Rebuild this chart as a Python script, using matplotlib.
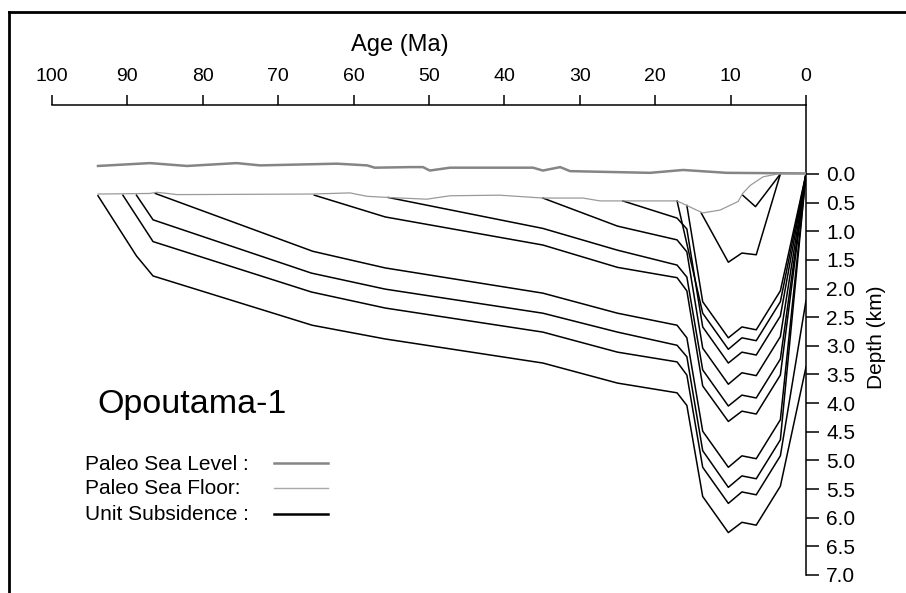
import numpy as np
import matplotlib
matplotlib.use("Agg")
import matplotlib.pyplot as plt
from matplotlib.lines import Line2D

plt.rcParams['font.family'] = ['Liberation Sans', 'DejaVu Sans']

# paleo sea level (depth, km; negative = above datum)
sl_age = [93.9, 87.0, 82.1, 75.5, 72.4, 62.2, 58.2, 57.2, 52.5, 50.8, 49.9, 47.2,
          36.2, 34.9, 32.6, 31.3, 20.7, 16.3, 10.5, 0.0]
sl_depth = [-0.14, -0.19, -0.14, -0.19, -0.15, -0.18, -0.15, -0.11, -0.12, -0.12,
            -0.06, -0.11, -0.11, -0.06, -0.12, -0.05, -0.02, -0.07, -0.02, -0.01]

# paleo sea floor
sf_age = [93.9, 87.0, 86.1, 84.7, 83.4, 65.4, 60.5, 58.2, 55.4, 50.3, 47.2, 40.6,
          34.9, 29.6, 27.3, 17.1, 13.7, 11.4, 9.0, 8.4, 7.4, 5.7, 3.8, 0.1]
sf_depth = [0.35, 0.34, 0.32, 0.34, 0.36, 0.35, 0.33, 0.39, 0.41, 0.44, 0.38, 0.37,
            0.42, 0.42, 0.47, 0.47, 0.68, 0.63, 0.48, 0.34, 0.20, 0.05, 0.0, 0.0]

# unit subsidence curves, oldest first
u1_age = [93.9, 88.8, 86.6, 65.5, 55.8, 34.9, 25.0, 17.1, 15.8, 13.7, 10.3, 8.5, 6.6, 3.4, 0.0]
u1_depth = [0.38, 1.43, 1.78, 2.64, 2.88, 3.30, 3.65, 3.82, 4.04, 5.63, 6.26, 6.08, 6.13, 5.45, 3.37]
u2_age = [90.6, 86.6, 65.6, 55.8, 34.9, 25.0, 17.1, 15.8, 13.7, 10.3, 8.5, 6.6, 3.4, 0.0]
u2_depth = [0.37, 1.18, 2.06, 2.34, 2.76, 3.11, 3.28, 3.51, 5.12, 5.75, 5.55, 5.60, 4.92, 2.21]
u3_age = [88.8, 86.6, 65.6, 55.8, 34.9, 25.0, 17.1, 15.8, 13.7, 10.3, 8.5, 6.6, 3.4, 0.0]
u3_depth = [0.37, 0.80, 1.73, 2.01, 2.43, 2.76, 2.99, 3.19, 4.83, 5.47, 5.27, 5.32, 4.64, 0.0]
u4_age = [86.3, 65.4, 55.8, 34.9, 25.0, 17.1, 15.8, 13.7, 10.3, 8.5, 6.6, 3.4, 0.0]
u4_depth = [0.34, 1.35, 1.64, 2.08, 2.43, 2.64, 2.86, 4.49, 5.12, 4.92, 4.97, 4.29, 0.0]
u5_age = [65.2, 55.8, 34.9, 25.0, 17.1, 15.8, 13.7, 10.3, 8.5, 6.6, 3.4, 0.0]
u5_depth = [0.37, 0.75, 1.24, 1.63, 1.81, 2.04, 3.70, 4.32, 4.14, 4.19, 3.51, 0.0]
u6_age = [55.4, 34.9, 25.0, 17.1, 15.8, 13.7, 10.3, 8.5, 6.6, 3.4, 0.0]
u6_depth = [0.41, 0.95, 1.33, 1.59, 1.80, 3.42, 4.05, 3.86, 3.91, 3.23, 0.0]
u7_age = [34.9, 25.0, 17.1, 15.8, 13.7, 10.3, 8.5, 6.6, 3.4, 0.0]
u7_depth = [0.42, 0.91, 1.15, 1.36, 3.04, 3.67, 3.47, 3.52, 2.84, 0.0]
u8_age = [24.3, 17.1, 15.8, 13.7, 10.3, 8.5, 6.6, 3.4, 0.0]
u8_depth = [0.47, 0.77, 0.96, 2.67, 3.30, 3.11, 3.16, 2.48, 0.0]
u9_age = [17.1, 13.7, 10.3, 8.5, 6.6, 3.4, 0.0]
u9_depth = [0.47, 2.43, 3.06, 2.86, 2.91, 2.23, 0.0]
u10_age = [15.8, 13.7, 10.3, 8.5, 6.6, 3.4, 0.0]
u10_depth = [0.55, 2.23, 2.86, 2.67, 2.72, 2.04, 0.0]
u11_age = [13.9, 10.3, 8.5, 6.6, 3.4]
u11_depth = [0.68, 1.54, 1.38, 1.41, 0.0]
u12_age = [8.4, 6.7, 3.4]
u12_depth = [0.37, 0.57, 0.0]

units = [(u1_age, u1_depth), (u2_age, u2_depth), (u3_age, u3_depth), (u4_age, u4_depth),
         (u5_age, u5_depth), (u6_age, u6_depth), (u7_age, u7_depth), (u8_age, u8_depth),
         (u9_age, u9_depth), (u10_age, u10_depth), (u11_age, u11_depth), (u12_age, u12_depth)]

age_ticks = np.arange(0, 101, 10)
depth_ticks = np.arange(0, 7.01, 0.5)

W, H = 906, 593
fig = plt.figure(figsize=(W / 100, H / 100), dpi=100)
# axes box: age 100..0 -> px 52..806, depth top..7 -> px 105..575
ax = fig.add_axes([52 / W, 1 - 575 / H, (806 - 52) / W, (575 - 105) / H])
ax.set_xlim(100, 0)
ax.set_ylim(7.0, -69 / 57.3)

ax.plot(sl_age, sl_depth, color='#858585', lw=1.8, zorder=3)
ax.plot(sf_age, sf_depth, color='#9a9a9a', lw=0.9, zorder=3)
for a, d in units:
    ax.plot(a, d, color='black', lw=1.1, zorder=2)

for s in ['left', 'bottom']:
    ax.spines[s].set_visible(False)
for s in ['top', 'right']:
    ax.spines[s].set_linewidth(1.1)
ax.xaxis.tick_top()
ax.set_xticks(age_ticks)
ax.set_xticklabels([str(v) for v in age_ticks])
ax.yaxis.tick_right()
ax.set_yticks(depth_ticks)
ax.set_yticklabels(['%.1f' % v for v in depth_ticks])
ax.tick_params(axis='x', length=7.2, width=1.1, pad=7, labelsize=14)
ax.tick_params(axis='y', length=9.5, width=1.1, pad=5, labelsize=15)

fig.text(400 / W, 1 - 45 / H, 'Age (Ma)', ha='center', va='center', fontsize=17)
fig.text(876 / W, 1 - 337 / H, 'Depth (km)', ha='center', va='center',
         rotation=90, fontsize=15)
fig.text(97 / W, 1 - 405 / H, 'Opoutama-1', ha='left', va='center', fontsize=24.5)

leg = [('Paleo Sea Level :', '#858585', 1.8, 463),
       ('Paleo Sea Floor:', '#a8a8a8', 1.0, 488),
       ('Unit Subsidence :', 'black', 1.8, 514)]
for txt, c, lw, y in leg:
    fig.text(85 / W, 1 - (y + 1) / H, txt, ha='left', va='center', fontsize=15)
    fig.add_artist(Line2D([274 / W, 328 / W], [1 - y / H, 1 - y / H], color=c, lw=lw))

# outer frame (top and left edges)
fig.add_artist(Line2D([9 / W, 1.0], [1 - 12 / H, 1 - 12 / H], color='black', lw=2))
fig.add_artist(Line2D([9 / W, 9 / W], [0, 1 - 12 / H], color='black', lw=2))

fig.savefig('out.png', dpi=100)
